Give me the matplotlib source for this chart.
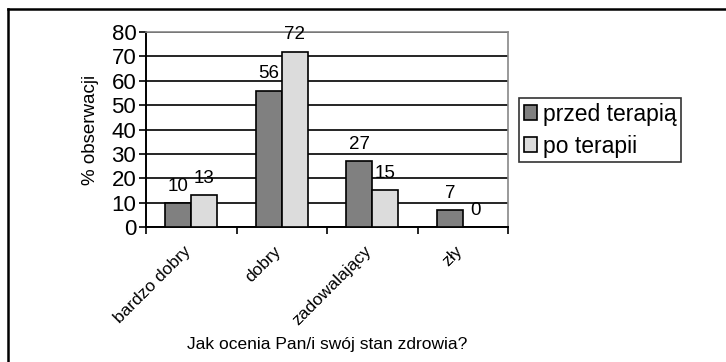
import numpy as np
import matplotlib.pyplot as plt
from matplotlib.lines import Line2D

plt.rcParams['font.family'] = ['Liberation Sans', 'DejaVu Sans']

categories = ["bardzo dobry", "dobry", "zadowalający", "zły"]
przed = [10, 56, 27, 7]
po = [13, 72, 15, 0]
series_names = ["przed terapią", "po terapii"]

W, H = 726, 362
fig = plt.figure(figsize=(W / 100, H / 100), dpi=100)

# plot area in pixel units
left, right, top, bottom = 146, 508, 32, 227
ax = fig.add_axes([left / W, 1 - bottom / H, (right - left) / W, (bottom - top) / H])

x = np.arange(len(categories))
bw = 26 / 90.5
ax.bar(x - bw / 2, przed, bw, color="#808080", edgecolor="black", linewidth=1.2,
       label=series_names[0], zorder=3)
ax.bar(x + bw / 2, po, bw, color="#dcdcdc", edgecolor="black", linewidth=1.2,
       label=series_names[1], zorder=3)

for xi, v in zip(x, przed):
    ax.text(xi - bw / 2, v + 3.3, str(v), ha="center", va="bottom", fontsize=13.5)
for xi, v in zip(x, po):
    ax.text(xi + bw / 2, v + 3.3, str(v), ha="center", va="bottom", fontsize=13.5)

ax.set_xlim(-0.5, len(categories) - 0.5)
ax.set_ylim(0, 80)
ax.set_yticks(range(0, 81, 10))
ax.tick_params(axis="y", labelsize=16, direction="out", length=5, width=1.2, pad=2)
ax.yaxis.grid(True, color="black", linewidth=1.2, zorder=0)
ax.set_axisbelow(True)

# ticks sit between categories, labels at category centres
ax.set_xticks(np.arange(-0.5, len(categories), 1.0))
ax.set_xticklabels([])
ax.tick_params(axis="x", direction="out", length=5, width=1.2)
for xi, name in zip(x, categories):
    ax.annotate(name, xy=(xi, 0), xycoords=("data", "axes fraction"),
                xytext=(-6, -12), textcoords="offset points",
                rotation=45, ha="right", va="top", rotation_mode="anchor",
                fontsize=12.5)

for side in ["top", "right"]:
    ax.spines[side].set_color("#888888")
    ax.spines[side].set_linewidth(1.2)
for side in ["left", "bottom"]:
    ax.spines[side].set_color("black")
    ax.spines[side].set_linewidth(1.4)

ax.set_ylabel("% obserwacji", fontsize=13.5, labelpad=9)
fig.text(327 / W, 1 - 345 / H, "Jak ocenia Pan/i swój stan zdrowia?",
         ha="center", va="center", fontsize=12.5)

leg = fig.legend(loc="upper left", bbox_to_anchor=(519 / W, 1 - 98 / H),
                 fontsize=16.5, frameon=True, fancybox=False, edgecolor="black",
                 handlelength=0.6, handleheight=0.6, handletextpad=0.25,
                 borderpad=0.2, labelspacing=0.4, borderaxespad=0)
leg.get_frame().set_linewidth(1.2)

# outer chart frame (top and left edges)
fig.add_artist(Line2D([8 / W, 1], [1 - 9 / H, 1 - 9 / H], color="black", linewidth=1.8))
fig.add_artist(Line2D([8 / W, 8 / W], [0, 1 - 9 / H], color="black", linewidth=1.8))

fig.savefig("out.png", dpi=100, facecolor="white")
